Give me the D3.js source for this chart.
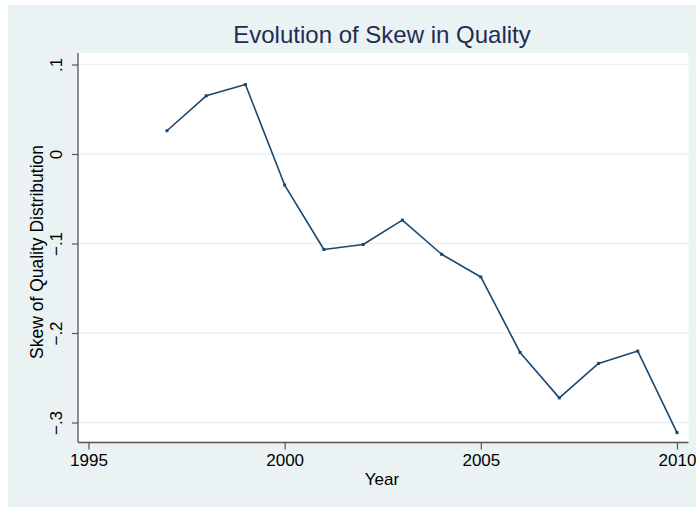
<!DOCTYPE html>
<html>
<head>
<meta charset="utf-8">
<script src="https://cdn.jsdelivr.net/npm/d3@7"></script>
<style>
  html, body { margin: 0; padding: 0; background: #ffffff; }
  svg { display: block; }
</style>
</head>
<body>
<svg id="chart" width="696" height="507"></svg>
<script>
const years = [1997, 1998, 1999, 2000, 2001, 2002, 2003, 2004, 2005, 2006, 2007, 2008, 2009, 2010];
const skew = [0.026, 0.065, 0.0776, -0.0347, -0.1067, -0.1011, -0.0739, -0.112, -0.1374, -0.2217, -0.2725, -0.234, -0.2202, -0.3113];
const xTicks = [1995, 2000, 2005, 2010];
const yTicks = [0.1, 0, -0.1, -0.2, -0.3];
const yTickLabels = [".1", "0", "\u2212.1", "\u2212.2", "\u2212.3"];

const svg = d3.select("#chart");
const font = "'Liberation Sans', Arial, Helvetica, sans-serif";

// outer background
svg.append("rect").attr("x", 8).attr("y", 5).attr("width", 688).attr("height", 502).attr("fill", "#eaf2f3");

const plot = { left: 78, right: 688.5, top: 53, bottom: 442.5 };
svg.append("rect").attr("x", plot.left).attr("y", plot.top)
  .attr("width", plot.right - plot.left).attr("height", plot.bottom - plot.top).attr("fill", "#ffffff");

const x = d3.scaleLinear().domain([1995, 2010]).range([88.5, 677]);
const y = d3.scaleLinear().domain([0, -0.3]).range([154, 422.5]);

// gridlines
svg.append("g").selectAll("line").data(yTicks).join("line")
  .attr("x1", plot.left).attr("x2", plot.right)
  .attr("y1", d => y(d)).attr("y2", d => y(d))
  .attr("stroke", "#eaf2f3").attr("stroke-width", 1.5);

// y axis
const yAxis = d3.axisLeft(y).tickValues(yTicks).tickSize(6).tickPadding(9)
  .tickFormat((d, i) => yTickLabels[i]);
const gy = svg.append("g").attr("transform", `translate(${plot.left},0)`).call(yAxis);
gy.select(".domain").attr("d", `M0,${plot.top}V${plot.bottom}`).attr("stroke", "#555").attr("stroke-width", 1.3);
gy.selectAll(".tick line").attr("stroke", "#555").attr("stroke-width", 1.2);
gy.selectAll(".tick text")
  .attr("font-family", font).attr("font-size", 17).attr("fill", "#000")
  .attr("text-anchor", "middle")
  .attr("x", null).attr("dy", null)
  .attr("transform", "translate(-16,0) rotate(-90)")
  .attr("dominant-baseline", "auto");

// x axis
const xAxis = d3.axisBottom(x).tickValues(xTicks).tickSize(7).tickPadding(4).tickFormat(d3.format("d"));
const gx = svg.append("g").attr("transform", `translate(0,${plot.bottom})`).call(xAxis);
gx.select(".domain").attr("d", `M${plot.left},0H${plot.right}`).attr("stroke", "#555").attr("stroke-width", 1.3);
gx.selectAll(".tick line").attr("stroke", "#555").attr("stroke-width", 1.2);
gx.selectAll(".tick text").attr("font-family", font).attr("font-size", 17).attr("fill", "#000");

// line
const data = years.map((yr, i) => ({ yr, v: skew[i] }));
svg.append("path").datum(data)
  .attr("fill", "none").attr("stroke", "#1a476f").attr("stroke-width", 1.6)
  .attr("stroke-linejoin", "round")
  .attr("d", d3.line().x(d => x(d.yr)).y(d => y(d.v)));
svg.append("g").selectAll("rect").data(data).join("rect")
  .attr("x", d => x(d.yr) - 1.5).attr("y", d => y(d.v) - 1.5)
  .attr("width", 3).attr("height", 3).attr("fill", "#1a476f");

// titles
svg.append("text").attr("x", 382).attr("y", 43).attr("text-anchor", "middle")
  .attr("font-family", font).attr("font-size", 24).attr("fill", "#1e2d52")
  .text("Evolution of Skew in Quality");
svg.append("text").attr("x", 382).attr("y", 485).attr("text-anchor", "middle")
  .attr("font-family", font).attr("font-size", 17).attr("fill", "#000")
  .text("Year");
svg.append("text").attr("transform", "translate(43,252) rotate(-90)").attr("text-anchor", "middle")
  .attr("font-family", font).attr("font-size", 17.5).attr("fill", "#000")
  .text("Skew of Quality Distribution");
</script>
</body>
</html>
